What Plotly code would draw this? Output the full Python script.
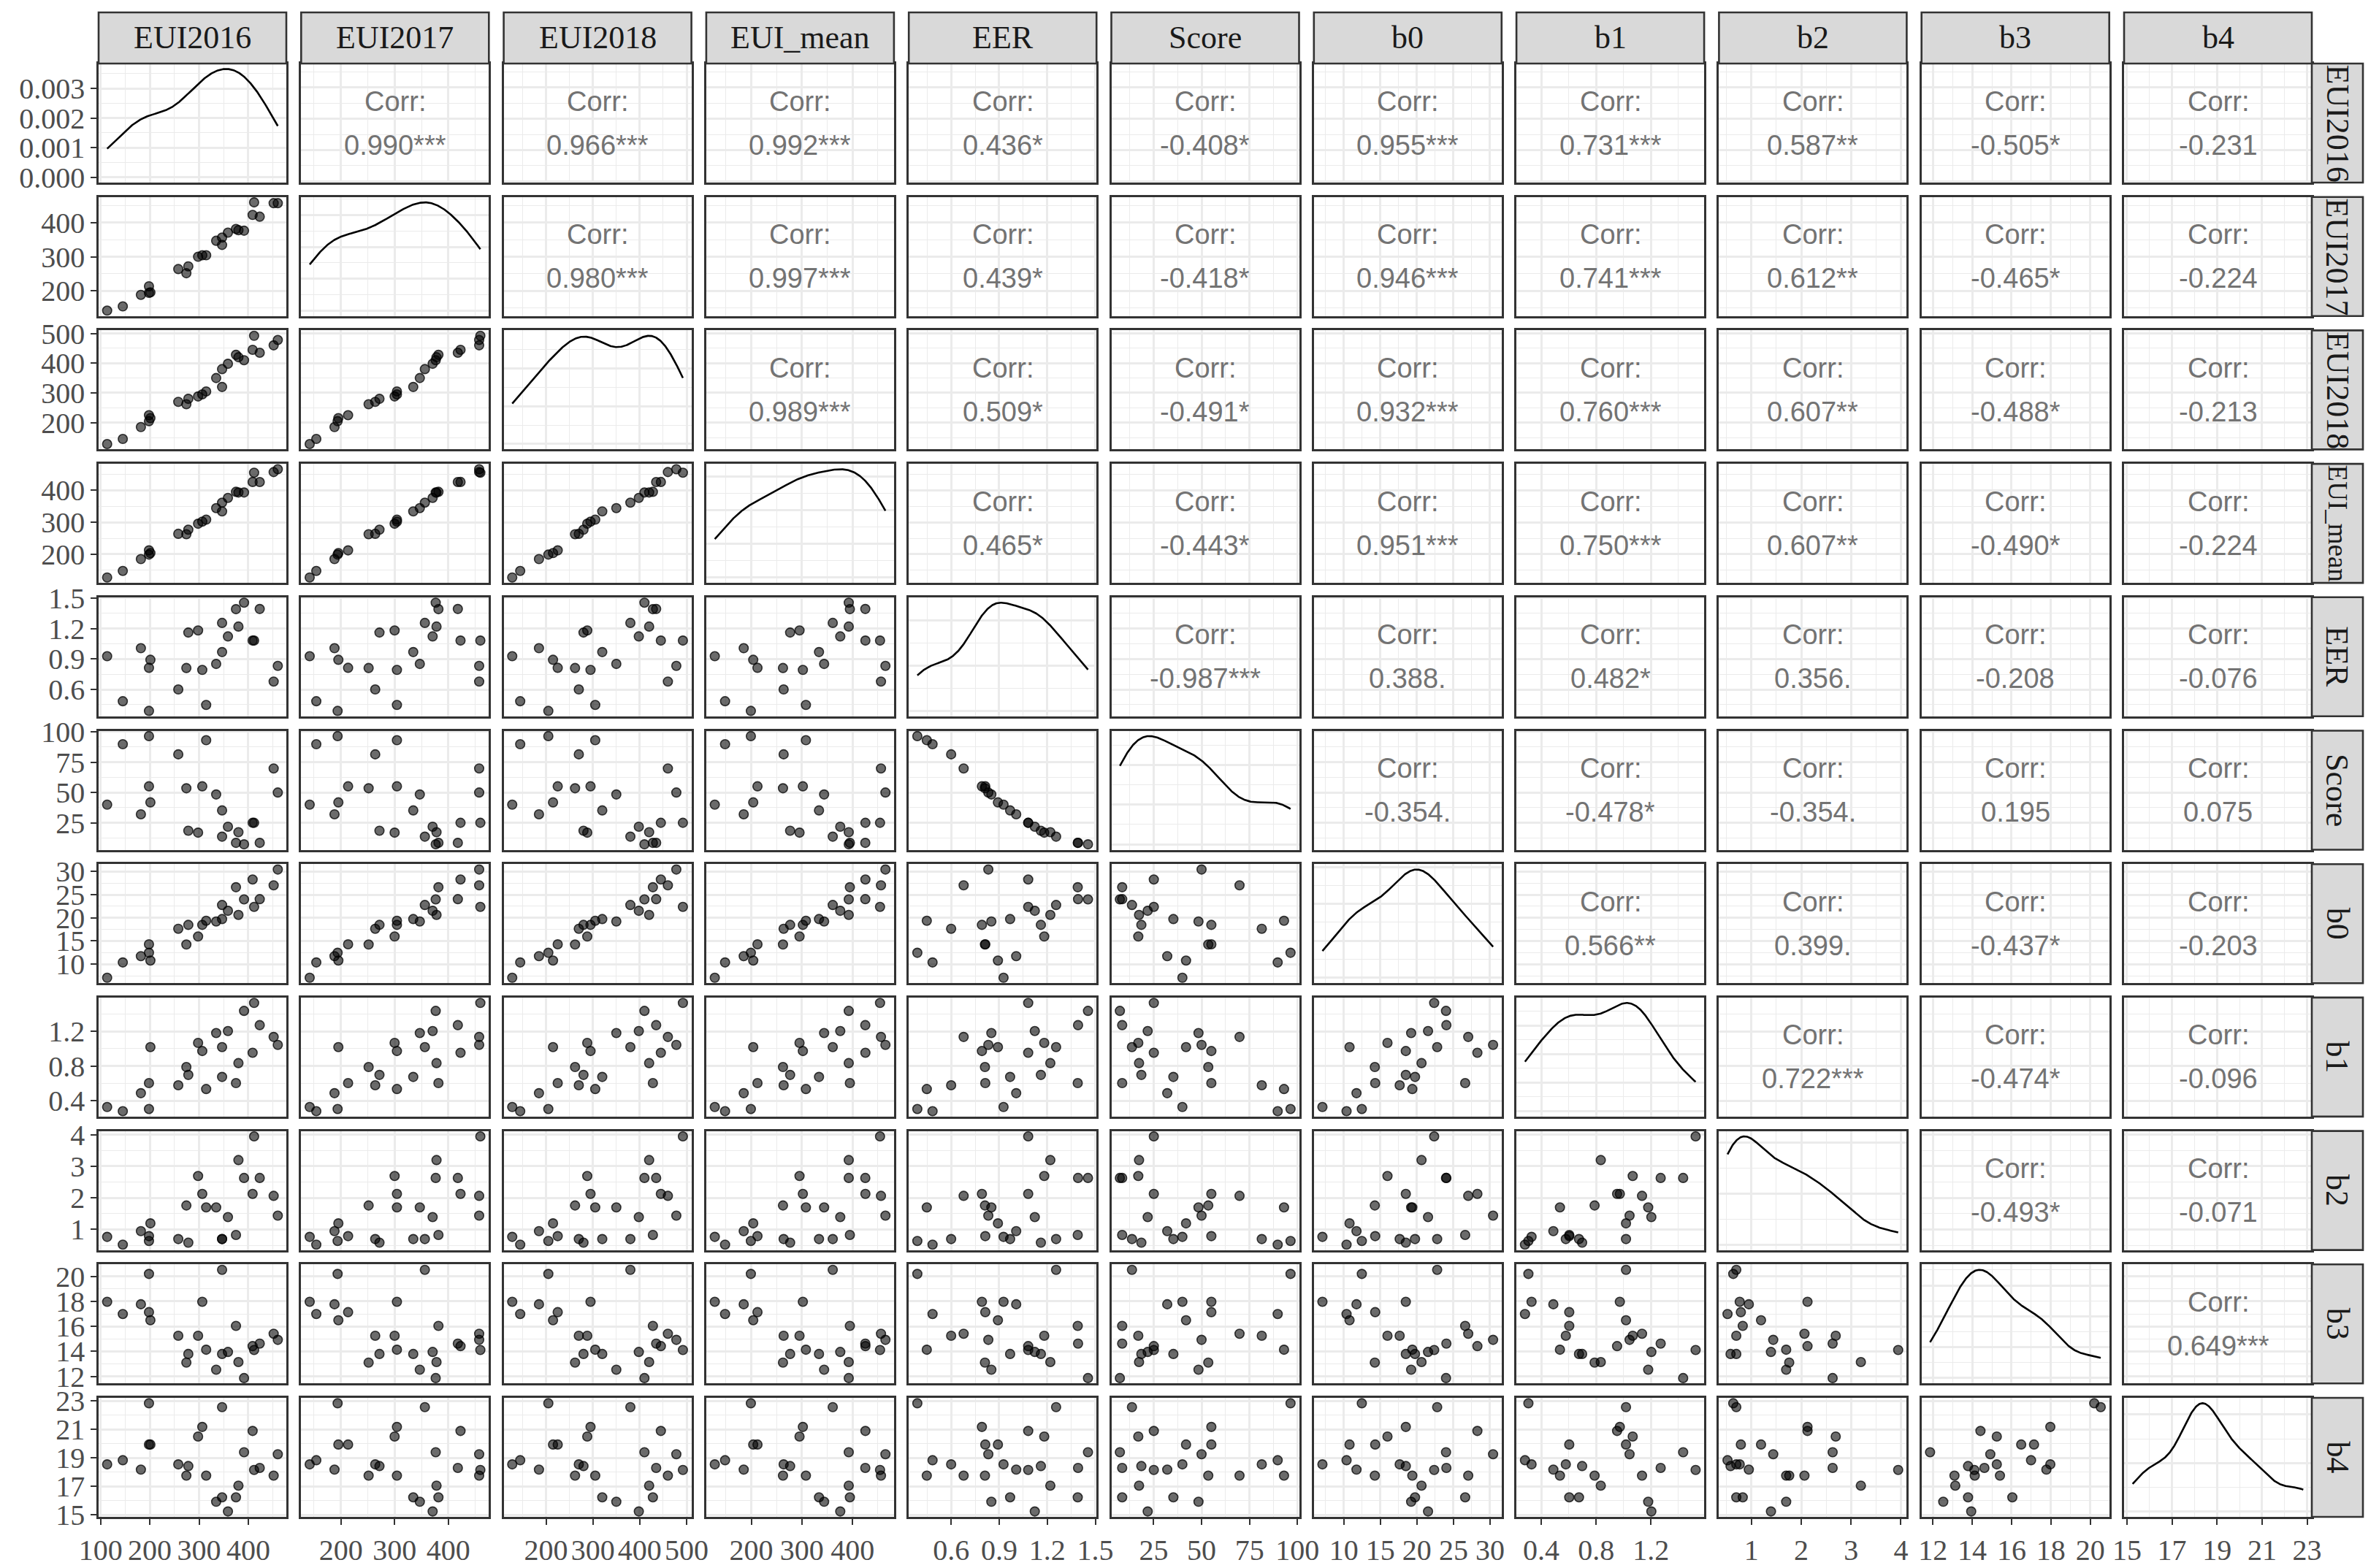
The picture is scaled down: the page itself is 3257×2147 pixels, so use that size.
import numpy as np
import plotly.graph_objects as go

VARS = ["EUI2016", "EUI2017", "EUI2018", "EUI_mean", "EER", "Score",
        "b0", "b1", "b2", "b3", "b4"]

EUI2016 = [113.4, 145.2, 181.9, 198.3, 198.3, 201.2, 257.8, 274.2, 278.2, 298.0, 306.5, 314.4,
           334.7, 346.7, 346.7, 358.6, 374.9, 379.9, 391.3, 408.7, 411.7, 423.1, 451.4, 459.8]
EUI2017 = [141.9, 154.2, 188.1, 213.4, 193.9, 195.3, 263.9, 251.6, 271.8, 300.0, 304.3, 304.3,
           346.9, 356.3, 334.7, 370.8, 381.6, 378.0, 376.5, 422.7, 459.6, 417.7, 457.4, 457.4]
EUI2018 = [128.0, 145.0, 185.0, 225.0, 205.0, 215.0, 270.0, 262.0, 280.0, 288.0, 295.0, 305.0,
           350.0, 380.0, 320.0, 398.0, 428.0, 420.0, 410.0, 445.0, 492.0, 435.0, 460.0, 478.0]
EUI_mean = [127.8, 148.1, 185.0, 212.2, 199.1, 203.8, 263.9, 262.6, 276.7, 295.3, 301.9, 307.9,
            343.9, 361.0, 333.8, 375.8, 394.8, 392.6, 392.6, 425.5, 454.4, 425.3, 456.3, 465.1]
EER = [0.927, 0.484, 1.006, 0.813, 0.389, 0.892, 0.600, 0.811, 1.160, 1.181, 0.792, 0.448,
       0.851, 1.255, 0.968, 1.122, 1.390, 1.219, 1.454, 1.081, 1.081, 1.392, 0.678, 0.832]
Score = [40.0, 89.7, 32.1, 55.1, 96.4, 41.9, 81.4, 53.5, 18.6, 17.0, 55.1, 93.0,
         48.4, 13.7, 35.3, 21.9, 8.6, 17.4, 7.4, 25.1, 25.1, 8.6, 69.8, 50.0]
b0 = [7.07, 10.37, 11.73, 14.29, 12.46, 10.78, 17.64, 14.24, 18.48, 15.97, 18.48, 19.37,
      19.21, 22.77, 19.74, 21.52, 26.60, 20.63, 23.98, 28.27, 22.36, 24.03, 27.02, 30.42]
b1 = [0.329, 0.281, 0.488, 0.604, 0.306, 1.018, 0.579, 0.789, 0.698, 1.067, 0.973, 0.536,
      1.180, 1.018, 0.675, 1.203, 0.604, 0.834, 1.435, 0.953, 1.526, 1.271, 1.135, 1.044]
b2 = [0.764, 0.519, 0.947, 0.787, 0.634, 1.192, 0.695, 1.758, 0.580, 2.692, 2.125, 1.697,
      1.697, 0.695, 0.695, 1.391, 0.825, 3.197, 2.630, 2.125, 3.946, 2.630, 2.064, 1.437]
b3 = [17.97, 16.99, 17.77, 17.14, 20.20, 16.49, 15.25, 13.10, 13.79, 15.25, 17.97, 14.13,
      12.53, 20.53, 13.79, 13.95, 16.04, 13.14, 11.86, 14.42, 14.11, 14.62, 15.41, 14.92]
b4 = [18.55, 18.84, 18.18, 19.94, 22.83, 19.94, 18.55, 17.76, 18.43, 20.50, 21.17, 17.76,
      15.93, 22.56, 16.24, 15.25, 16.24, 17.06, 19.40, 20.89, 18.16, 18.30, 17.76, 19.26]

# correlation labels of the upper triangle, row by row
CORR = [
    ["0.990***", "0.966***", "0.992***", "0.436*", "-0.408*", "0.955***", "0.731***", "0.587**", "-0.505*", "-0.231"],
    ["0.980***", "0.997***", "0.439*", "-0.418*", "0.946***", "0.741***", "0.612**", "-0.465*", "-0.224"],
    ["0.989***", "0.509*", "-0.491*", "0.932***", "0.760***", "0.607**", "-0.488*", "-0.213"],
    ["0.465*", "-0.443*", "0.951***", "0.750***", "0.607**", "-0.490*", "-0.224"],
    ["-0.987***", "0.388.", "0.482*", "0.356.", "-0.208", "-0.076"],
    ["-0.354.", "-0.478*", "-0.354.", "0.195", "0.075"],
    ["0.566**", "0.399.", "-0.437*", "-0.203"],
    ["0.722***", "-0.474*", "-0.096"],
    ["-0.493*", "-0.071"],
    ["0.649***"],
    [],
]

# axis breaks
BREAKS = {
    "EUI2016": [100, 200, 300, 400],
    "EUI2017": [200, 300, 400],
    "EUI2018": [200, 300, 400, 500],
    "EUI_mean": [200, 300, 400],
    "EER": [0.6, 0.9, 1.2, 1.5],
    "Score": [25, 50, 75, 100],
    "b0": [10, 15, 20, 25, 30],
    "b1": [0.4, 0.8, 1.2],
    "b2": [1, 2, 3, 4],
    "b3": [12, 14, 16, 18, 20],
    "b4": [15, 17, 19, 21, 23],
}
BREAK_LABELS = {
    "EER": ["0.6", "0.9", "1.2", "1.5"],
    "b1": ["0.4", "0.8", "1.2"],
}
DENS_BREAKS = [0.000, 0.001, 0.002, 0.003]
DENS_LABELS = ["0.000", "0.001", "0.002", "0.003"]

DATA = {"EUI2016": EUI2016, "EUI2017": EUI2017, "EUI2018": EUI2018, "EUI_mean": EUI_mean,
        "EER": EER, "Score": Score, "b0": b0, "b1": b1, "b2": b2, "b3": b3, "b4": b4}
DATA = {k: np.asarray(v, dtype=float) for k, v in DATA.items()}

# ---------------- geometry (pixel positions in the page, page body has an 8px margin) ----------------
PAGE_W, PAGE_H = 3257, 2147
OFF = 8
W, H = PAGE_W - OFF, PAGE_H - OFF
N = len(VARS)
COL_L0, COL_PITCH, COL_W = 135.0 - OFF, 277.3, 257.0
ROW_T0, ROW_PITCH, ROW_H = 87.0 - OFF, 182.7, 163.0
STRIP_TOP = 17.0 - OFF
STRIP_RIGHT_W = 70.0

SERIF = "Liberation Serif, Times New Roman, serif"
SANS = "Liberation Sans, Arial, sans-serif"
GRID = "#ebebeb"
BORDER = "#333333"


def kde(v):
    v = np.asarray(v, float)
    n = len(v)
    sd = v.std(ddof=1)
    q75, q25 = np.percentile(v, [75, 25])
    lo = min(sd, (q75 - q25) / 1.34)
    bw = 0.9 * lo * n ** -0.2
    xs = np.linspace(v.min(), v.max(), 512)
    d = np.exp(-0.5 * ((xs[:, None] - v[None, :]) / bw) ** 2).sum(1) / (n * bw * np.sqrt(2 * np.pi))
    return xs, d


def expand(lo, hi, f=0.05):
    r = hi - lo
    return [lo - f * r, hi + f * r]


def pretty_step(lo, hi, n=5):
    raw = (hi - lo) / n
    mag = 10 ** np.floor(np.log10(raw))
    for m in (1, 2, 2.5, 5, 10):
        if m * mag >= raw:
            return m * mag
    return 10 * mag


def minor_vals(major, rng):
    step = major[1] - major[0] if len(major) > 1 else 1
    half = step / 2.0
    vals = []
    v = major[0] - 4 * step + half
    while v < rng[1] + step:
        if rng[0] <= v <= rng[1]:
            vals.append(round(v, 10))
        v += step
    return vals


def major_in(major, rng):
    return [m for m in major if rng[0] <= m <= rng[1]]


RANGES = {v: expand(DATA[v].min(), DATA[v].max()) for v in VARS}
DENS = {v: kde(DATA[v]) for v in VARS}

fig = go.Figure()
layout = dict(width=W, height=H, margin=dict(l=0, r=0, t=0, b=0, pad=0), autosize=False,
              paper_bgcolor="white", plot_bgcolor="white", showlegend=False)
annotations = []
shapes = []


def ax_name(k, axis):
    return f"{axis}axis" if k == 1 else f"{axis}axis{k}"


def ref(k, axis):
    return axis if k == 1 else f"{axis}{k}"


for i in range(N):
    for j in range(N):
        k = i * N + j + 1
        vx, vy = VARS[j], VARS[i]
        x0 = COL_L0 + j * COL_PITCH
        x1 = x0 + COL_W
        y0 = ROW_T0 + i * ROW_PITCH
        y1 = y0 + ROW_H
        xdom = [x0 / W, x1 / W]
        ydom = [1 - y1 / H, 1 - y0 / H]

        xr = RANGES[vx]
        xmaj = BREAKS[vx]
        xlab = BREAK_LABELS.get(vx, [str(b) for b in xmaj])

        if i == j:
            xs, d = DENS[vx]
            yr = [-0.05 * d.max(), 1.05 * d.max()]
            if i == 0:
                ymaj = DENS_BREAKS
                ylab = DENS_LABELS
            else:
                st = pretty_step(0, d.max(), 4)
                ymaj = list(np.arange(0, d.max() * 1.2, st))
                ylab = ["" for _ in ymaj]
            fig.add_trace(go.Scatter(x=xs, y=d, mode="lines",
                                     line=dict(color="black", width=2.6),
                                     xaxis=ref(k, "x"), yaxis=ref(k, "y"), hoverinfo="skip"))
        else:
            yr = RANGES[vy]
            ymaj = BREAKS[vy]
            ylab = BREAK_LABELS.get(vy, [str(b) for b in ymaj])
            if i > j:
                fig.add_trace(go.Scatter(x=DATA[vx], y=DATA[vy], mode="markers",
                                         marker=dict(size=12.5, color="rgba(0,0,0,0.58)",
                                                     line=dict(color="rgba(0,0,0,0.75)", width=1.6)),
                                         xaxis=ref(k, "x"), yaxis=ref(k, "y"), hoverinfo="skip"))
            else:
                cx = (x0 + x1) / 2 / W
                cy = 1 - (y0 + y1) / 2 / H
                txt = CORR[i][j - i - 1]
                for line_txt, dy in (("Corr:", 30), (txt, -30)):
                    annotations.append(dict(x=cx, y=cy, xref="paper", yref="paper",
                                            text=line_txt, showarrow=False, yshift=dy,
                                            font=dict(family=SANS, size=38, color="#737373"),
                                            xanchor="center", yanchor="middle"))
                fig.add_trace(go.Scatter(x=[xr[0]], y=[yr[0]], mode="markers",
                                         marker=dict(size=1, color="rgba(0,0,0,0)"),
                                         xaxis=ref(k, "x"), yaxis=ref(k, "y"), hoverinfo="skip"))

        xm_in = major_in(xmaj, xr)
        xl_in = [xlab[xmaj.index(m)] for m in xm_in]
        ym_in = major_in(ymaj, yr)
        yl_in = [ylab[list(ymaj).index(m)] for m in ym_in]

        xaxis = dict(domain=xdom, anchor=ref(k, "y"), range=xr, automargin=False,
                     tickmode="array", tickvals=xm_in, ticktext=xl_in,
                     showticklabels=(i == N - 1), ticks="outside" if i == N - 1 else "",
                     ticklen=8, tickwidth=2.2, tickcolor=BORDER, tickangle=0,
                     tickfont=dict(family=SERIF, size=40, color="#4d4d4d"),
                     showgrid=True, gridcolor=GRID, gridwidth=2.6,
                     minor=dict(tickmode="array", tickvals=minor_vals(xmaj, xr), showgrid=True,
                                gridcolor=GRID, gridwidth=1.4, ticks=""),
                     showline=True, mirror=True, linecolor=BORDER, linewidth=2.6,
                     zeroline=False, fixedrange=True)
        yaxis = dict(domain=ydom, anchor=ref(k, "x"), range=yr, automargin=False,
                     tickmode="array", tickvals=ym_in, ticktext=yl_in,
                     showticklabels=(j == 0), ticks="outside" if j == 0 else "",
                     ticklen=8, tickwidth=2.2, tickcolor=BORDER,
                     tickfont=dict(family=SERIF, size=40, color="#4d4d4d"),
                     showgrid=True, gridcolor=GRID, gridwidth=2.6,
                     minor=dict(tickmode="array", tickvals=minor_vals(list(ymaj), yr), showgrid=True,
                                gridcolor=GRID, gridwidth=1.4, ticks=""),
                     showline=True, mirror=True, linecolor=BORDER, linewidth=2.6,
                     zeroline=False, fixedrange=True)
        layout[ax_name(k, "x")] = xaxis
        layout[ax_name(k, "y")] = yaxis

# strips
for j, v in enumerate(VARS):
    x0 = COL_L0 + j * COL_PITCH
    x1 = x0 + COL_W
    shapes.append(dict(type="rect", xref="paper", yref="paper",
                       x0=x0 / W, x1=x1 / W, y0=1 - ROW_T0 / H, y1=1 - STRIP_TOP / H,
                       fillcolor="#d9d9d9", line=dict(color=BORDER, width=2.6), layer="above"))
    annotations.append(dict(x=(x0 + x1) / 2 / W, y=1 - (STRIP_TOP + ROW_T0) / 2 / H,
                            xref="paper", yref="paper", text=v, showarrow=False,
                            font=dict(family=SERIF, size=44, color="#1a1a1a"),
                            xanchor="center", yanchor="middle"))
sx0 = COL_L0 + (N - 1) * COL_PITCH + COL_W
sx1 = sx0 + STRIP_RIGHT_W
for i, v in enumerate(VARS):
    y0 = ROW_T0 + i * ROW_PITCH
    y1 = y0 + ROW_H
    shapes.append(dict(type="rect", xref="paper", yref="paper",
                       x0=sx0 / W, x1=sx1 / W, y0=1 - y1 / H, y1=1 - y0 / H,
                       fillcolor="#d9d9d9", line=dict(color=BORDER, width=2.6), layer="above"))
    fs = 37 if len(v) > 7 else 44
    annotations.append(dict(x=(sx0 + sx1) / 2 / W, y=1 - (y0 + y1) / 2 / H,
                            xref="paper", yref="paper", text=v, showarrow=False, textangle=90,
                            font=dict(family=SERIF, size=fs, color="#1a1a1a"),
                            xanchor="center", yanchor="middle"))

layout["annotations"] = annotations
layout["shapes"] = shapes
fig.update_layout(**layout)
fig.write_html("out.html")
